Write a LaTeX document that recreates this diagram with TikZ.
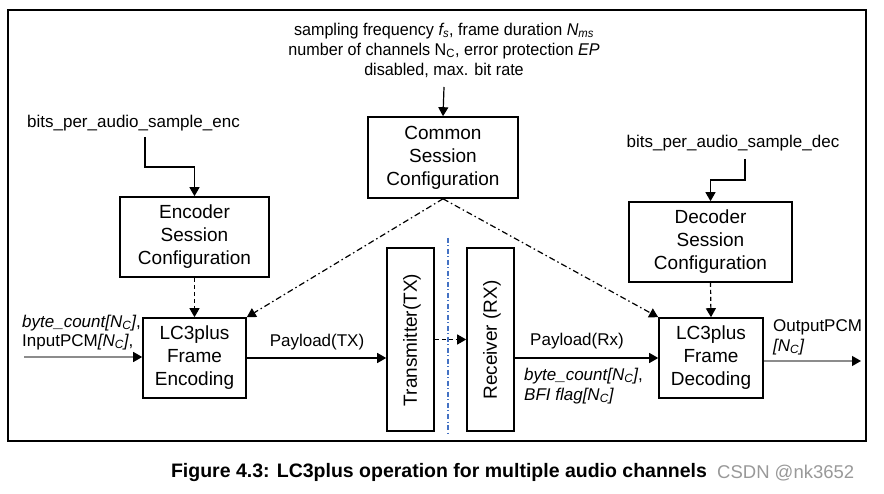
\documentclass[tikz,border=0pt]{standalone}
\usepackage{fontspec}
\setmainfont{Liberation Sans}
\newfontfamily\narrowfont[FakeStretch=0.95]{Liberation Sans}
\usetikzlibrary{arrows.meta,calc}
\definecolor{dashblue}{RGB}{68,114,196}
\tikzset{
  box/.style={draw=black, line width=1.6pt, inner sep=0pt, align=center,
    font=\fontsize{19}{23}\selectfont},
  lbl/.style={inner sep=0pt, font=\fontsize{17}{19}\selectfont},
  arr/.style={line width=1.2pt, -{Triangle[length=9pt,width=10pt]}},
  dasharr/.style={arr, dash pattern=on 4pt off 3pt},
  dotarr/.style={arr, dash pattern=on 6pt off 3pt on 1.5pt off 3pt},
  greyarr/.style={line width=1.2pt, draw=black!45, -{Triangle[length=9pt,width=10pt,color=black]}},
}
\begin{document}
\begin{tikzpicture}[x=1pt,y=-1pt]
\useasboundingbox (0,0) rectangle (884,494);
\fill[white] (0,0) rectangle (884,494);
% outer frame
\node[draw=black, line width=2pt, minimum width=858pt, minimum height=431pt, inner sep=0pt] (frame) at (437,225.5) {};

% top text
\node[inner sep=0pt, align=center, font=\narrowfont\fontsize{17}{20}\selectfont] (toptext) at (444,50)
  {sampling frequency \textit{f\textsubscript{s}}, frame duration \textit{N\textsubscript{ms}}\\
   number of channels N\textsubscript{C}, error protection \textit{EP}\\
   disabled, max. bit rate};
\coordinate (comsrc) at (444,87);

% boxes
\node[box, minimum width=150pt, minimum height=81pt] (common) at (443,157.5) {Common\\Session\\Configuration};
\node[box, minimum width=149pt, minimum height=80pt] (encs) at (194.5,237) {Encoder\\Session\\Configuration};
\node[box, minimum width=103pt, minimum height=80pt] (lcenc) at (194.5,358) {LC3plus\\Frame\\Encoding};
\node[box, minimum width=163pt, minimum height=80pt] (decs) at (710.5,242) {Decoder\\Session\\Configuration};
\node[box, minimum width=104pt, minimum height=80pt] (lcdec) at (711,358) {LC3plus\\Frame\\Decoding};
\node[box, minimum width=47pt, minimum height=183pt] (tx) at (410.5,339.5) {};
\node[rotate=90, inner sep=0pt, font=\fontsize{19}{23}\selectfont] (txtext) at (412,340) {Transmitter(TX)};
\node[box, minimum width=47pt, minimum height=183pt] (rx) at (490.5,339.5) {};
\node[rotate=90, inner sep=0pt, font=\fontsize{19}{23}\selectfont] (rxtext) at (492,340) {Receiver (RX)};

% parameter labels
\node[lbl] (bitsenc) at (133.5,123) {bits\_per\_audio\_sample\_enc};
\coordinate (encsrc) at (145,137);
\node[lbl] (bitsdec) at (733,143) {bits\_per\_audio\_sample\_dec};
\coordinate (decsrc) at (745,159);

% connectors
\draw[arr] (comsrc) -- (common.north);
\draw[arr] (encsrc) -- ++(0,30) -| (encs.north);
\draw[arr] (decsrc) -- ++(0,21) -| (decs.north);
\draw[dasharr] (encs.south) -- (lcenc.north);
\draw[dasharr] (decs.south) -- (lcdec.north);
\draw[dotarr] (common.south) -- (lcenc.north east);
\draw[dotarr] (common.south) -- (lcdec.north west);

% blue separator
\coordinate (septop) at (448,238);
\coordinate (sepbot) at (448,435);
\draw[dashblue, line width=1.1pt, dash pattern=on 5pt off 2.5pt on 1pt off 2.5pt] (septop) -- (sepbot);

% input
\coordinate (insrc) at (24,357);
\draw[greyarr] (insrc) -- (lcenc.west |- insrc);
\node[lbl, anchor=west, align=left] (inlbl) at (22,332.5)
  {\textit{byte\_count[N\textsubscript{C}]},\\InputPCM\textit{[N\textsubscript{C}]},};

% payload TX
\draw[arr] (lcenc.east) -- (tx.west |- lcenc.east);
\node[lbl] (paytx) at (317,342) {Payload(TX)};

% TX -> RX
\draw[dasharr] (tx.east) -- (rx.west);

% payload RX
\draw[arr] (rx.east |- lcdec.west) -- (lcdec.west);
\node[lbl] (payrx) at (577,341) {Payload(Rx)};
\node[lbl, anchor=west, align=left, font=\fontsize{17}{20}\selectfont] (rxlbl) at (524,386)
  {\textit{byte\_count[N\textsubscript{C}]},\\\textit{BFI flag[N\textsubscript{C}]}};

% output
\coordinate (outdst) at (861,361);
\draw[greyarr] (lcdec.east |- outdst) -- (outdst);
\node[lbl, anchor=west, align=left, font=\fontsize{17}{20}\selectfont] (outlbl) at (773,337)
  {OutputPCM\\\textit{[N\textsubscript{C}]}};

% caption
\node[inner sep=0pt, font=\bfseries\fontsize{19.5}{23}\selectfont] (caption) at (439,473)
  {Figure 4.3: LC3plus operation for multiple audio channels};
\node[inner sep=0pt, anchor=west, text=black!40, font=\fontsize{18.5}{22}\selectfont] (wm) at (717,473) {CSDN @nk3652};
\end{tikzpicture}
\end{document}
